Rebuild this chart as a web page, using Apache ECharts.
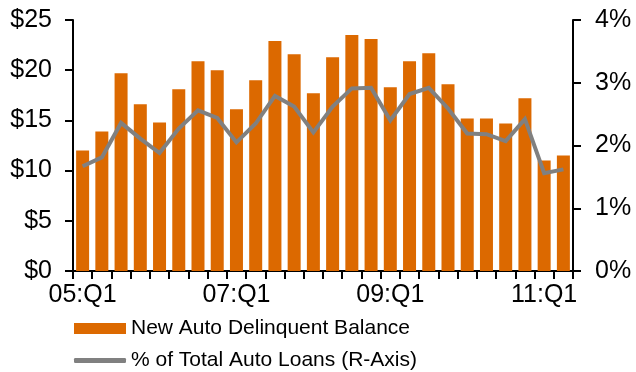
<!DOCTYPE html>
<html>
<head>
<meta charset="utf-8">
<script src="https://cdn.jsdelivr.net/npm/echarts@6/dist/echarts.min.js"></script>
<style>
  html, body { margin: 0; padding: 0; background: #fff; }
  #chart { width: 636px; height: 372px; }
</style>
</head>
<body>
<div id="chart"></div>
<script>
// Quarterly categories, 2005 Q1 through 2011 Q2
const quarters = [
  '05:Q1', '05:Q2', '05:Q3', '05:Q4',
  '06:Q1', '06:Q2', '06:Q3', '06:Q4',
  '07:Q1', '07:Q2', '07:Q3', '07:Q4',
  '08:Q1', '08:Q2', '08:Q3', '08:Q4',
  '09:Q1', '09:Q2', '09:Q3', '09:Q4',
  '10:Q1', '10:Q2', '10:Q3', '10:Q4',
  '11:Q1', '11:Q2'
];

// New auto delinquent balance, billions of dollars (left axis)
const delinquentBalance = [
  12.0, 13.9, 19.7, 16.6,
  14.8, 18.1, 20.9, 20.0,
  16.1, 19.0, 22.9, 21.6,
  17.7, 21.3, 23.5, 23.1,
  18.3, 20.9, 21.7, 18.6,
  15.2, 15.2, 14.7, 17.2,
  11.0, 11.5
];

// Share of total auto loans, percent (right axis)
const pctOfTotal = [
  1.67, 1.81, 2.36, 2.11,
  1.88, 2.27, 2.56, 2.44,
  2.05, 2.35, 2.79, 2.62,
  2.21, 2.62, 2.91, 2.92,
  2.40, 2.82, 2.92, 2.59,
  2.19, 2.18, 2.07, 2.42,
  1.56, 1.62
];

const leftTicks = [0, 5, 10, 15, 20, 25];
const rightTicks = [0, 1, 2, 3, 4];

const barName = 'New Auto Delinquent Balance';
const lineName = '% of Total Auto Loans (R-Axis)';

const FONT = '"Liberation Sans", Arial, sans-serif';
const ORANGE = '#DC6900';
const GREY = '#808080';
const INK = '#000';

const chart = echarts.init(document.getElementById('chart'), null, { renderer: 'canvas' });

const axisLineStyle = { show: true, lineStyle: { color: INK, width: 2 } };
const tickStyle = { show: true, length: 8, lineStyle: { color: INK, width: 2 } };
const legendText = { fontFamily: FONT, fontSize: 21, color: INK };

chart.setOption({
  animation: false,
  backgroundColor: '#fff',
  textStyle: { fontFamily: FONT },
  grid: { left: 73, right: 63, top: 20, bottom: 101, containLabel: false },
  legend: [
    {
      data: [{ name: barName, icon: 'rect' }],
      left: 74, top: 318,
      padding: 0,
      itemWidth: 52, itemHeight: 11,
      selectedMode: false,
      textStyle: legendText
    },
    {
      data: [{ name: lineName, icon: 'roundRect', itemStyle: { color: GREY } }],
      left: 74, top: 350,
      padding: 0,
      itemWidth: 52, itemHeight: 5,
      selectedMode: false,
      textStyle: legendText
    }
  ],
  xAxis: {
    type: 'category',
    data: quarters,
    boundaryGap: true,
    axisLine: axisLineStyle,
    axisTick: Object.assign({ interval: 0, alignWithLabel: false, inside: false }, tickStyle),
    axisLabel: {
      interval: 7,
      margin: 12,
      fontSize: 25,
      color: INK,
      fontFamily: FONT
    },
    splitLine: { show: false }
  },
  yAxis: [
    {
      type: 'value',
      min: leftTicks[0],
      max: leftTicks[leftTicks.length - 1],
      interval: 5,
      position: 'left',
      axisLine: axisLineStyle,
      axisTick: tickStyle,
      splitLine: { show: false },
      axisLabel: {
        margin: 21,
        fontSize: 25,
        color: INK,
        fontFamily: FONT,
        padding: [4, 0, 0, 0],
        formatter: v => '$' + v
      }
    },
    {
      type: 'value',
      min: rightTicks[0],
      max: rightTicks[rightTicks.length - 1],
      interval: 1,
      position: 'right',
      axisLine: axisLineStyle,
      axisTick: tickStyle,
      splitLine: { show: false },
      axisLabel: {
        margin: 22,
        fontSize: 25,
        color: INK,
        fontFamily: FONT,
        padding: [4, 0, 0, 0],
        formatter: v => v + '%'
      }
    }
  ],
  series: [
    {
      name: barName,
      type: 'bar',
      yAxisIndex: 0,
      data: delinquentBalance,
      barWidth: 13,
      itemStyle: { color: ORANGE }
    },
    {
      name: lineName,
      type: 'line',
      yAxisIndex: 1,
      data: pctOfTotal,
      symbol: 'none',
      lineStyle: { color: GREY, width: 4, join: 'miter' },
      itemStyle: { color: GREY }
    }
  ]
});
</script>
</body>
</html>
